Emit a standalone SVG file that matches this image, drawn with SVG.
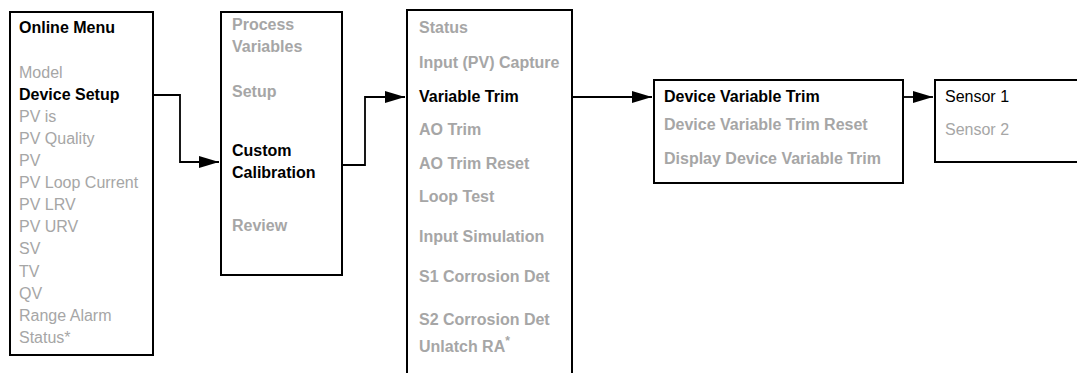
<svg xmlns="http://www.w3.org/2000/svg" width="1077" height="373" viewBox="0 0 1077 373">
<style>
.box{fill:#fff;stroke:#000;stroke-width:2}
text{font-family:"Liberation Sans",Arial,sans-serif;font-size:16px}
.g{fill:#a6a6a6}
.k{fill:#000}
.b{font-weight:bold}
.c{fill:none;stroke:#000;stroke-width:1.8}
</style>
<defs>
<marker id="ahl" markerWidth="20" markerHeight="12" refX="20" refY="6" orient="auto" markerUnits="userSpaceOnUse">
<path d="M0,0 L20,6 L0,12 Z" fill="#000"/>
</marker>
</defs>
<g id="connectors">
<path class="c" d="M153,95 H180 V162 H219" marker-end="url(#ahl)"/>
<path class="c" d="M342,165 H365 V97 H405" marker-end="url(#ahl)"/>
<path class="c" d="M572,97 H652" marker-end="url(#ahl)"/>
<path class="c" d="M903,97 H933" marker-end="url(#ahl)"/>
</g>
<g id="online-menu">
<rect class="box" x="10" y="12" width="143" height="343"/>
<text x="19" y="33" class="k b">Online Menu</text>
<text x="19" y="78" class="g">Model</text>
<text x="19" y="100" class="k b">Device Setup</text>
<text x="19" y="122" class="g">PV is</text>
<text x="19" y="144" class="g">PV Quality</text>
<text x="19" y="166" class="g">PV</text>
<text x="19" y="188" class="g">PV Loop Current</text>
<text x="19" y="210" class="g">PV LRV</text>
<text x="19" y="232" class="g">PV URV</text>
<text x="19" y="254" class="g">SV</text>
<text x="19" y="277" class="g">TV</text>
<text x="19" y="299" class="g">QV</text>
<text x="19" y="321" class="g">Range Alarm</text>
<text x="19" y="343" class="g">Status*</text>
</g>
<g id="device-setup">
<rect class="box" x="221" y="12" width="121" height="263"/>
<text x="232" y="30" class="g b">Process</text>
<text x="232" y="52" class="g b">Variables</text>
<text x="232" y="97" class="g b">Setup</text>
<text x="232" y="156" class="k b">Custom</text>
<text x="232" y="178" class="k b">Calibration</text>
<text x="232" y="231" class="g b">Review</text>
</g>
<g id="custom-calibration">
<rect class="box" x="407" y="10" width="165" height="380"/>
<text x="419" y="33" class="g b">Status</text>
<text x="419" y="68" class="g b">Input (PV) Capture</text>
<text x="419" y="102" class="k b">Variable Trim</text>
<text x="419" y="135" class="g b">AO Trim</text>
<text x="419" y="169" class="g b">AO Trim Reset</text>
<text x="419" y="202" class="g b">Loop Test</text>
<text x="419" y="242" class="g b">Input Simulation</text>
<text x="419" y="282" class="g b">S1 Corrosion Det</text>
<text x="419" y="325" class="g b">S2 Corrosion Det</text>
<text x="419" y="352" class="g b">Unlatch RA<tspan dy="-7" font-size="12">*</tspan></text>
</g>
<g id="variable-trim">
<rect class="box" x="654" y="80" width="249" height="103"/>
<text x="664" y="102" class="k b">Device Variable Trim</text>
<text x="664" y="130" class="g b">Device Variable Trim Reset</text>
<text x="664" y="164" class="g b">Display Device Variable Trim</text>
</g>
<g id="sensors">
<rect class="box" x="935" y="80" width="160" height="82"/>
<text x="945" y="102" class="k">Sensor 1</text>
<text x="945" y="135" class="g">Sensor 2</text>
</g>
</svg>
